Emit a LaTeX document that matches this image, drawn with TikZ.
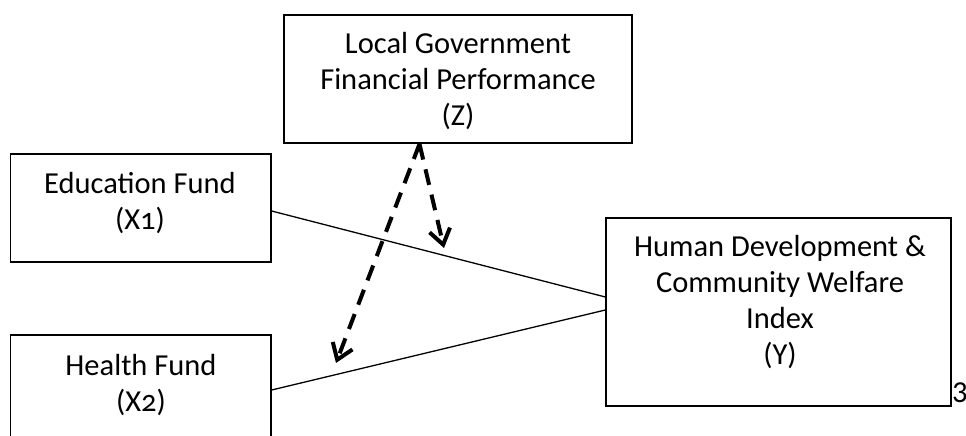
\documentclass[tikz,border=0pt]{standalone}
\usepackage{fontspec}
\setmainfont{Carlito}
\newfontfamily\osf{Carlito}[Numbers=OldStyle]
\usetikzlibrary{arrows.meta,calc}
\begin{document}
\begin{tikzpicture}[x=1pt,y=-1pt,
  boxnode/.style={draw, line width=1.3pt, inner sep=0pt},
  txt/.style={align=center, inner sep=0pt, font=\fontsize{30.5}{36}\selectfont},
  plainline/.style={line width=1.3pt},
  dasharrow/.style={line width=4pt, dash pattern=on 16pt off 10pt,
    -{Straight Barb[length=15pt, width=21pt, line width=4pt]}}]
\clip (0,0) rectangle (966,436);
% boxes
\node[boxnode, minimum width=348pt, minimum height=128pt] (z) at (458,79) {};
\node[boxnode, minimum width=260.5pt, minimum height=108pt] (x1) at (140.75,208) {};
\node[boxnode, minimum width=260.5pt, minimum height=110pt] (x2) at (140.75,390) {};
\node[boxnode, minimum width=345pt, minimum height=188pt] (y) at (778.5,312) {};
% texts
\node[txt] (ztxt) at (458,81) {Local Government\\Financial Performance\\(Z)};
\node[txt] (x1txt) at (140,203) {Education Fund\\({\osf X1})};
\node[txt] (x2txt) at (141,385) {Health Fund\\({\osf X2})};
\node[txt] (ytxt) at (780,302) {Human Development \&\\Community Welfare\\Index\\(Y)};
\node[txt, anchor=west] (pg) at (952,393) {3};
% connectors
\draw[plainline] ($(x1.east)+(0,3)$) -- ($(y.west)+(0,-15)$);
\draw[plainline] (x2.east) -- ($(y.west)+(0,-2)$);
\coordinate (zs) at (419.5,144);
\coordinate (t1) at (444,248);
\coordinate (t2) at (336,363);
\draw[dasharrow] (zs) -- (t1);
\draw[dasharrow] (zs) -- (t2);
\end{tikzpicture}
\end{document}
